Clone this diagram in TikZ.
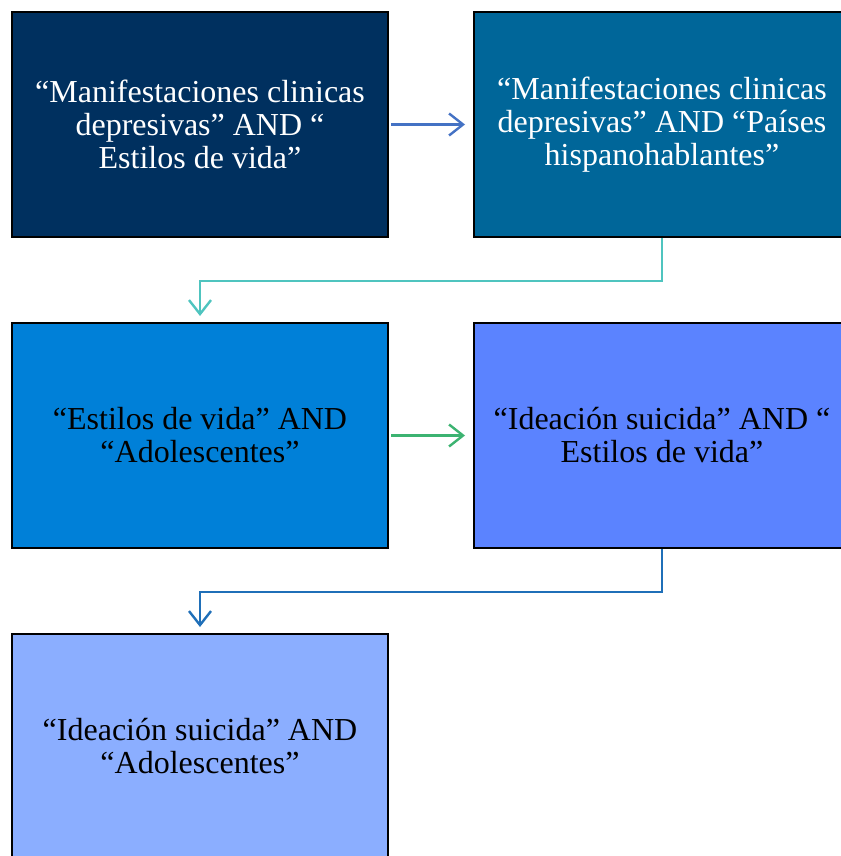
\documentclass[tikz,border=0pt]{standalone}
\usepackage{fontspec}
\setmainfont{Liberation Serif}
\usetikzlibrary{arrows.meta,positioning}

\definecolor{navyA}{HTML}{00305F}
\definecolor{tealA}{HTML}{006699}
\definecolor{blueA}{HTML}{0080D8}
\definecolor{blueB}{HTML}{5B83FF}
\definecolor{blueC}{HTML}{8BAEFF}
\definecolor{arrA}{HTML}{4472C4}
\definecolor{arrB}{HTML}{4FC4BF}
\definecolor{arrC}{HTML}{3CB371}
\definecolor{arrD}{HTML}{1F6FB8}

\begin{document}
\begin{tikzpicture}[
    x=1pt, y=1pt,
    node distance=84pt and 84pt,
    term/.style={rectangle, draw=black, line width=2pt, minimum width=376pt, minimum height=225pt,
        align=center, font=\fontsize{32}{33}\selectfont, inner sep=0pt},
    arrow/.style={-{Straight Barb[length=14pt,width=22pt]}, line width=2.4pt}
]
    \useasboundingbox (0,0) rectangle (840,-856);

    \node[term, fill=navyA, text=white] (q1) at (200,-124.5) {“Manifestaciones clinicas\\depresivas” AND “\\Estilos de vida”};
    \node[term, fill=tealA, text=white, right=of q1] (q2) {“Manifestaciones clinicas\\depresivas” AND “Países\\hispanohablantes”};
    \node[term, fill=blueA, below=of q1] (q3) {“Estilos de vida” AND\\“Adolescentes”};
    \node[term, fill=blueB, right=of q3] (q4) {“Ideación suicida” AND “\\Estilos de vida”};
    \node[term, fill=blueC, below=of q3] (q5) {“Ideación suicida” AND\\“Adolescentes”};

    \draw[arrow, arrA, shorten <=2pt, shorten >=8pt] (q1) -- (q2);
    \draw[arrow, arrB, shorten >=6pt] (q2.south) -- ++(0,-43) -| (q3.north);
    \draw[arrow, arrC, shorten <=2pt, shorten >=8pt] (q3) -- (q4);
    \draw[arrow, arrD, shorten >=6pt] (q4.south) -- ++(0,-43) -| (q5.north);
\end{tikzpicture}
\end{document}
